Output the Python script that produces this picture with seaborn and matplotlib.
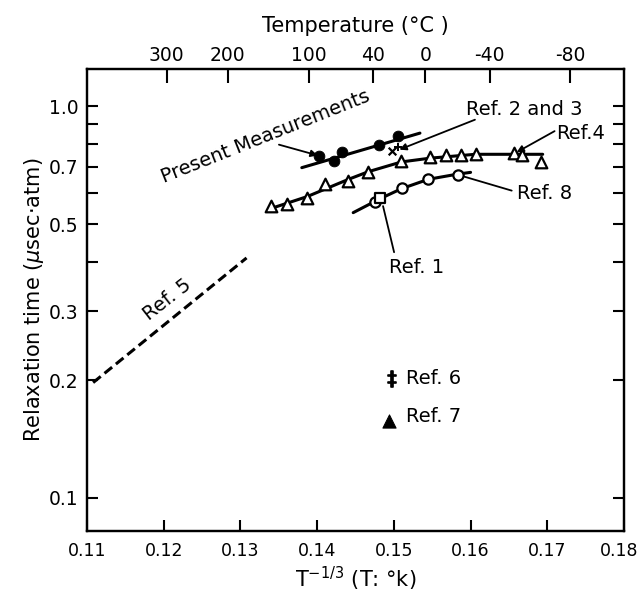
import matplotlib
matplotlib.use("Agg")
import matplotlib.pyplot as plt
import matplotlib.transforms as mtransforms
import seaborn as sns
from matplotlib.ticker import FixedLocator, FixedFormatter, NullLocator

# ---------------- data ----------------
present_x = [0.1403, 0.1422, 0.1433, 0.1481, 0.1505]
present_y = [0.746, 0.726, 0.766, 0.798, 0.840]
present_line_x = [0.1380, 0.1534]
present_line_y = [0.697, 0.854]

ref23_cross_x = [0.1497]
ref23_cross_y = [0.768]
ref23_plus_x = [0.1505]
ref23_plus_y = [0.785]

ref4_x = [0.13395, 0.13608, 0.13864, 0.14103, 0.14396, 0.14662, 0.15099,
          0.15471, 0.15684, 0.15871, 0.16073, 0.16563, 0.16669, 0.16919]
ref4_y = [0.556, 0.562, 0.584, 0.634, 0.644, 0.681, 0.724,
          0.741, 0.749, 0.749, 0.754, 0.759, 0.751, 0.721]
ref4_line_x = [0.1337, 0.1387, 0.1441, 0.1467, 0.1510, 0.1547, 0.1606, 0.1694]
ref4_line_y = [0.546, 0.588, 0.651, 0.681, 0.721, 0.737, 0.754, 0.754]

ref1_circle_x = [0.1475]
ref1_circle_y = [0.570]
ref1_square_x = [0.1482]
ref1_square_y = [0.584]

ref8_x = [0.1510, 0.1545, 0.1583]
ref8_y = [0.618, 0.651, 0.669]
ref8_line_x = [0.1447, 0.1483, 0.1510, 0.1545, 0.1583, 0.1600]
ref8_line_y = [0.535, 0.582, 0.616, 0.651, 0.671, 0.678]

ref5_x = [0.1108, 0.1308]
ref5_y = [0.197, 0.410]

ref6_x = [0.1497]
ref6_y = [0.201]
ref7_x = [0.1494]
ref7_y = [0.157]

x_ticks = [0.11, 0.12, 0.13, 0.14, 0.15, 0.16, 0.17, 0.18]
x_labels = ["0.11", "0.12", "0.13", "0.14", "0.15", "0.16", "0.17", "0.18"]
y_ticks = [0.1, 0.2, 0.3, 0.4, 0.5, 0.6, 0.7, 0.8, 0.9, 1.0]
y_labels = ["0.1", "0.2", "0.3", "", "0.5", "", "0.7", "", "", "1.0"]
temp_c = [300, 200, 100, 40, 0, -40, -80]
temp_labels = ["300", "200", "100", "40", "0", "-40", "-80"]

# ---------------- style ----------------
sns.set_style("ticks")
plt.rcParams["font.family"] = ["DejaVu Sans"]
plt.rcParams["mathtext.fontset"] = "dejavusans"
for key in ["text.color", "axes.labelcolor", "xtick.color", "ytick.color",
            "axes.edgecolor"]:
    plt.rcParams[key] = "black"

fig = plt.figure(figsize=(6.41, 5.96), dpi=100)
ax = fig.add_axes([0.1357, 0.109, 0.8378, 0.775])

K = "black"
LW = 2.2

# lines
sns.lineplot(x=present_line_x, y=present_line_y, ax=ax, color=K, lw=LW,
             sort=False, estimator=None)
sns.lineplot(x=ref4_line_x, y=ref4_line_y, ax=ax, color=K, lw=LW,
             sort=False, estimator=None)
sns.lineplot(x=ref8_line_x, y=ref8_line_y, ax=ax, color=K, lw=LW,
             sort=False, estimator=None)
sns.lineplot(x=ref5_x, y=ref5_y, ax=ax, color=K, lw=2.2, sort=False,
             estimator=None, linestyle=(0, (3.2, 1.6)))

# markers
sns.scatterplot(x=present_x, y=present_y, ax=ax, marker="o", s=60,
                color=K, edgecolor=K, zorder=5)
sns.scatterplot(x=ref4_x, y=ref4_y, ax=ax, marker="^", s=70,
                facecolor="white", edgecolor=K, linewidth=1.6, zorder=5)
sns.scatterplot(x=ref8_x, y=ref8_y, ax=ax, marker="o", s=55,
                facecolor="white", edgecolor=K, linewidth=1.6, zorder=5)
sns.scatterplot(x=ref1_circle_x, y=ref1_circle_y, ax=ax, marker="o", s=55,
                facecolor="white", edgecolor=K, linewidth=1.6, zorder=5)
sns.scatterplot(x=ref1_square_x, y=ref1_square_y, ax=ax, marker="s", s=45,
                facecolor="white", edgecolor=K, linewidth=1.6, zorder=6)
sns.scatterplot(x=ref23_cross_x, y=ref23_cross_y, ax=ax, marker="x", s=30,
                color=K, linewidth=1.6, zorder=5)
sns.scatterplot(x=ref23_plus_x, y=ref23_plus_y, ax=ax, marker="+", s=30,
                color=K, linewidth=1.4, zorder=5)
sns.scatterplot(x=ref6_x, y=ref6_y, ax=ax, marker="$\u2021$", s=130,
                color=K, edgecolor=K, linewidth=1.2, zorder=5)
sns.scatterplot(x=ref7_x, y=ref7_y, ax=ax, marker="^", s=90,
                color=K, edgecolor=K, zorder=5)

# ---------------- axes ----------------
ax.set_yscale("log")
ax.set_xlim(0.11, 0.18)
ax.set_ylim(0.0823, 1.244)
ax.xaxis.set_major_locator(FixedLocator(x_ticks))
ax.xaxis.set_major_formatter(FixedFormatter(x_labels))
ax.yaxis.set_major_locator(FixedLocator(y_ticks))
ax.yaxis.set_major_formatter(FixedFormatter(y_labels))
ax.yaxis.set_minor_locator(NullLocator())
ax.xaxis.set_minor_locator(NullLocator())

TFS = 13.5
ax.tick_params(axis="x", which="both", direction="in", length=8, width=1.5,
               labelsize=12.5, pad=8, top=False, bottom=True, colors=K)
ax.tick_params(axis="y", which="both", direction="in", length=8, width=1.5,
               labelsize=TFS, pad=6, left=True, right=True, colors=K)
for s in ax.spines.values():
    s.set_linewidth(1.6)
    s.set_color(K)

ax.set_xlabel("T$^{-1/3}$ (T: °k)", fontsize=15, labelpad=3)
ax.set_ylabel("Relaxation time ($\\mu$sec·atm)", fontsize=15, labelpad=2)

ax2 = ax.twiny()
ax2.set_xlim(ax.get_xlim())
ax2.set_xticks([(t + 273.15) ** (-1.0 / 3.0) for t in temp_c])
ax2.set_xticklabels(temp_labels)
ax2.xaxis.set_minor_locator(NullLocator())
ax2.tick_params(axis="x", direction="in", length=10, width=1.5,
                labelsize=TFS, pad=3, top=True, bottom=False,
                labeltop=True, labelbottom=False, colors=K)
ax2.set_xlabel("Temperature (°C )", fontsize=15, labelpad=10)
for s in ax2.spines.values():
    s.set_linewidth(1.6)
    s.set_color(K)

# keep the last bottom tick label inside the canvas
fig.canvas.draw()
last = ax.get_xticklabels()[-1]
last.set_transform(last.get_transform() +
                   mtransforms.ScaledTranslation(-5 / 100, 0, fig.dpi_scale_trans))

# ---------------- annotations ----------------
AFS = 14
ax.text(0.3315, 0.854, "Present Measurements", transform=ax.transAxes,
        rotation=21.7, ha="center", va="center", fontsize=AFS)
ax.text(0.814, 0.913, "Ref. 2 and 3", transform=ax.transAxes,
        ha="center", va="center", fontsize=AFS)
ax.text(0.919, 0.860, "Ref.4", transform=ax.transAxes,
        ha="center", va="center", fontsize=AFS)
ax.text(0.852, 0.731, "Ref. 8", transform=ax.transAxes,
        ha="center", va="center", fontsize=AFS)
ax.text(0.613, 0.570, "Ref. 1", transform=ax.transAxes,
        ha="center", va="center", fontsize=AFS)
ax.text(0.150, 0.500, "Ref. 5", transform=ax.transAxes, rotation=38,
        ha="center", va="center", fontsize=AFS)
ax.text(0.5946, 0.330, "Ref. 6", transform=ax.transAxes,
        ha="left", va="center", fontsize=AFS)
ax.text(0.5946, 0.247, "Ref. 7", transform=ax.transAxes,
        ha="left", va="center", fontsize=AFS)

arrow = dict(arrowstyle="-|>", color=K, lw=1.3, shrinkA=0, shrinkB=0,
             mutation_scale=10)
plain = dict(arrowstyle="-", color=K, lw=1.3, shrinkA=0, shrinkB=0)
ax.annotate("", xy=(0.14008, 0.749), xytext=(0.13502, 0.798), arrowprops=arrow)
ax.annotate("", xy=(0.15072, 0.775), xytext=(0.16057, 0.924), arrowprops=arrow)
ax.annotate("", xy=(0.1660, 0.763), xytext=(0.17095, 0.864), arrowprops=arrow)
ax.annotate("", xy=(0.15897, 0.663), xytext=(0.16536, 0.609), arrowprops=plain)
ax.annotate("", xy=(0.14859, 0.556), xytext=(0.15003, 0.424), arrowprops=plain)

fig.savefig("out.png", dpi=100)
